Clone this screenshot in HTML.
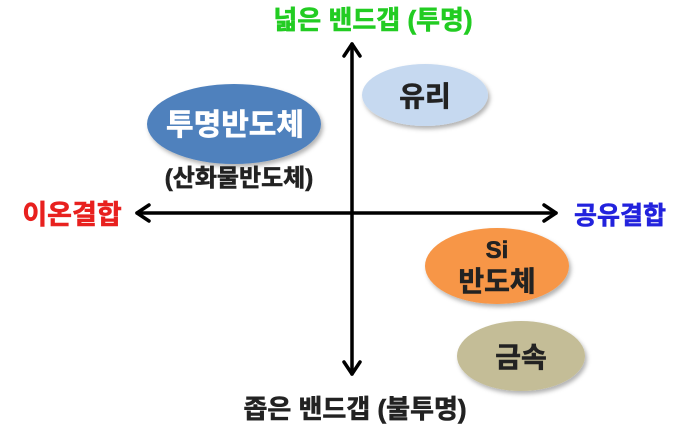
<!DOCTYPE html>
<html><head><meta charset="utf-8"><style>
body{margin:0;background:#fff;}
text{font-family:"Liberation Sans","Noto Sans CJK KR",sans-serif;font-weight:bold;}
</style></head><body>
<svg width="700" height="430" viewBox="0 0 700 430" xmlns="http://www.w3.org/2000/svg">
<defs>
<filter id="sh" x="-20%" y="-20%" width="150%" height="150%"><feDropShadow dx="2" dy="3" stdDeviation="2" flood-color="#000" flood-opacity="0.3"/></filter>
</defs>
<g stroke="#000" stroke-width="3.5" fill="none" stroke-linecap="round" stroke-linejoin="round">
<line x1="352" y1="44" x2="352" y2="374"/>
<polyline points="344,56 352,44 360,56"/>
<polyline points="344,362 352,374 360,362"/>
<line x1="137" y1="213" x2="556" y2="213"/>
<polyline points="149,205 137,213 149,221"/>
<polyline points="544,205 556,213 544,221"/>
</g>
<ellipse cx="234" cy="124" rx="87" ry="40" fill="#4f81bd" filter="url(#sh)"/>
<ellipse cx="425" cy="95" rx="63" ry="31" fill="#c6d9f0" filter="url(#sh)"/>
<ellipse cx="497" cy="266" rx="72" ry="38" fill="#f79646" filter="url(#sh)"/>
<ellipse cx="521" cy="356" rx="64" ry="35" fill="#c4bd97" filter="url(#sh)"/>
<g stroke-width="0.6">
<text x="235" y="135" font-size="30" fill="#fff" stroke="#fff" text-anchor="middle">투명반도체</text>
<text x="239" y="186" font-size="24" fill="#222" stroke="#222" text-anchor="middle">(산화물반도체)</text>
<text x="425" y="106" font-size="28" fill="#222" stroke="#222" text-anchor="middle">유리</text>
<text x="497" y="258" font-size="24" fill="#222" stroke="#222" text-anchor="middle">Si</text>
<text x="497" y="291" font-size="28" fill="#222" stroke="#222" text-anchor="middle">반도체</text>
<text x="521" y="367" font-size="28" fill="#222" stroke="#222" text-anchor="middle">금속</text>
<text x="373" y="29" font-size="26" fill="#22cc22" stroke="#22cc22" text-anchor="middle">넓은 밴드갭 (투명)</text>
<text x="72" y="224" font-size="27" fill="#e8201e" stroke="#e8201e" text-anchor="middle">이온결합</text>
<text x="620" y="224" font-size="25" fill="#2222dd" stroke="#2222dd" text-anchor="middle">공유결합</text>
<text x="355" y="418" font-size="26" fill="#222" stroke="#222" text-anchor="middle">좁은 밴드갭 (불투명)</text>
</g>
</svg>
</body></html>
